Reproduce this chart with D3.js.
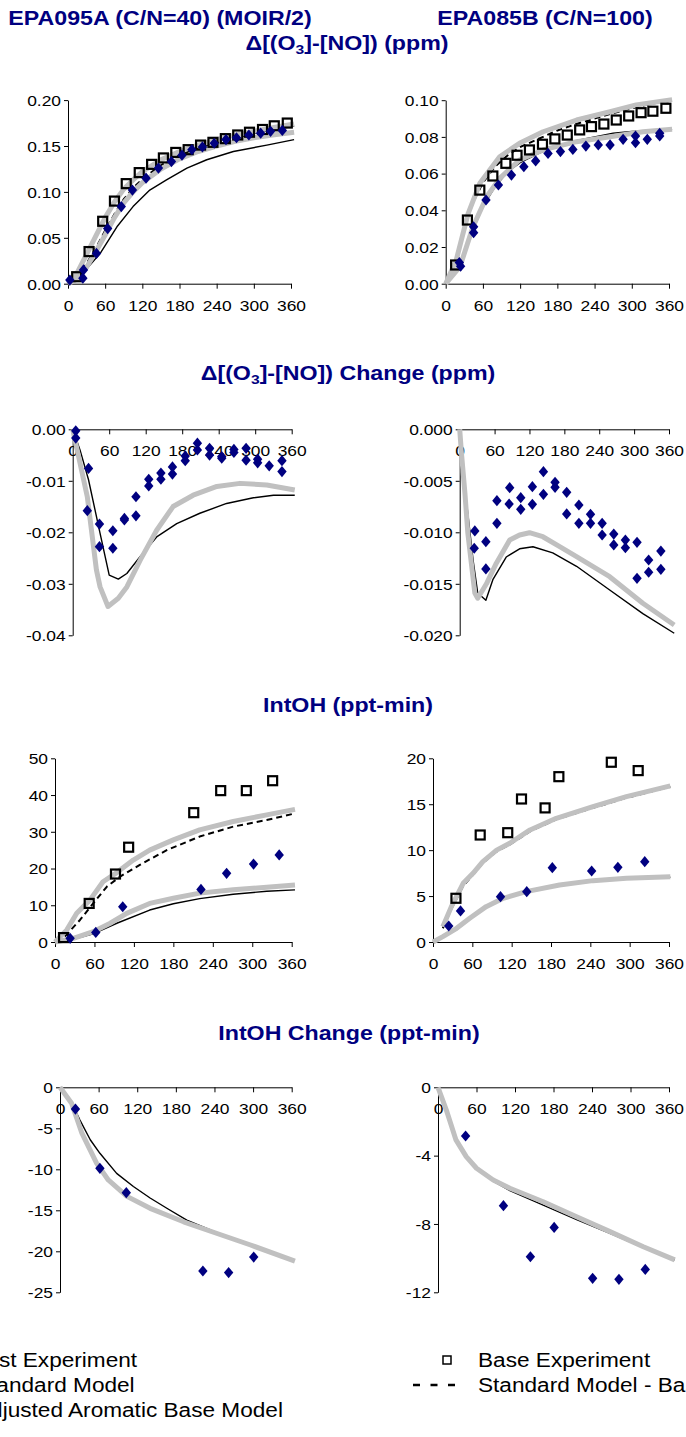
<!DOCTYPE html>
<html><head><meta charset="utf-8">
<script src="https://cdn.jsdelivr.net/npm/d3@7"></script>
<style>
body{margin:0;background:#fff;}
svg{display:block;}
text{font-family:"Liberation Sans",Arial,sans-serif;}
</style></head>
<body><svg id="c" width="686" height="1437"></svg>
<script>
// ---------- tick values ----------
const xTicks=[0,60,120,180,240,300,360];
const yTicksO3A=[0,0.05,0.10,0.15,0.20];
const yTicksO3B=[0,0.02,0.04,0.06,0.08,0.10];
const yTicksDA=[0,-0.01,-0.02,-0.03,-0.04];
const yTicksDB=[0,-0.005,-0.010,-0.015,-0.020];
const yTicksIA=[0,10,20,30,40,50];
const yTicksIB=[0,5,10,15,20];
const yTicksCA=[0,-5,-10,-15,-20,-25];
const yTicksCB=[0,-4,-8,-12];

// ---------- texts ----------
const expTitles=["EPA095A (C/N=40) (MOIR/2)","EPA085B (C/N=100)"];
const legendLeft=["Test Experiment","Standard Model","Adjusted Aromatic Base Model"];
const legendRight=["Base Experiment","Standard Model - Base Case"];

// ---------- panel 1: Δ(O3-NO) EPA095A [min, ppm] ----------
const o3A_test=[[3,0.004],[24,0.006],[25,0.015],[46,0.033],[64,0.060],[86,0.084],[104,0.102],[126,0.115],[146,0.126],[167,0.133],[184,0.140],[200,0.146],[217,0.149],[236,0.153],[255,0.157],[272,0.159],[292,0.162],[311,0.164],[327,0.166],[346,0.167]];
const o3A_base=[[14,0.0076],[34,0.035],[56,0.068],[75,0.090],[94,0.109],[115,0.121],[135,0.130],[154,0.137],[174,0.143],[194,0.146],[214,0.151],[234,0.154],[254,0.158],[274,0.162],[293,0.165],[314,0.168],[333,0.172],[354,0.175]];
const o3A_std=[[0,0],[15,0.004],[33,0.0185],[52,0.033],[79,0.062],[105,0.084],[132,0.102],[159,0.113],[192,0.126],[224,0.135],[267,0.144],[321,0.151],[365,0.157]];
const o3A_stdBase=[[0,0],[15,0.007],[30,0.022],[46,0.040],[60,0.058],[76,0.077],[90,0.092],[105,0.104],[120,0.114],[150,0.129],[180,0.140],[210,0.148],[240,0.154],[270,0.159],[300,0.164],[330,0.168],[365,0.172]];
const o3A_adjBase=[[0,0],[15,0.012],[30,0.032],[45,0.052],[60,0.072],[75,0.089],[90,0.103],[105,0.113],[120,0.122],[150,0.135],[180,0.144],[210,0.151],[240,0.157],[270,0.162],[300,0.166],[330,0.170],[365,0.174]];
const o3A_adjTest=[[0,0],[15,0.005],[30,0.018],[45,0.035],[60,0.053],[75,0.072],[90,0.088],[105,0.100],[120,0.110],[150,0.125],[180,0.136],[210,0.144],[240,0.150],[270,0.155],[300,0.159],[330,0.162],[365,0.165]];

// ---------- panel 2: Δ(O3-NO) EPA085B ----------
const o3B_base=[[16,0.0102],[35,0.0347],[55,0.051],[76,0.0587],[97,0.0656],[115,0.070],[135,0.0729],[156,0.076],[176,0.0789],[196,0.081],[216,0.0838],[235,0.0856],[255,0.087],[275,0.0892],[295,0.0914],[315,0.0932],[334,0.094],[355,0.0956]];
const o3B_test=[[22,0.0115],[24,0.0095],[45,0.031],[45,0.0278],[65,0.0456],[85,0.0538],[106,0.0592],[126,0.0638],[145,0.0669],[165,0.071],[185,0.072],[205,0.0732],[226,0.075],[246,0.0756],[265,0.0756],[286,0.0787],[306,0.0805],[306,0.0768],[325,0.0787],[345,0.082],[345,0.0805]];
const o3B_std=[[0,0],[20,0.007],[40,0.026],[60,0.042],[80,0.053],[100,0.061],[120,0.066],[150,0.071],[180,0.075],[210,0.078],[240,0.080],[270,0.082],[300,0.083],[330,0.0835],[365,0.084]];
const o3B_stdBase=[[0,0],[15,0.010],[30,0.031],[45,0.045],[60,0.055],[80,0.064],[100,0.070],[120,0.0745],[150,0.079],[180,0.0835],[210,0.087],[240,0.090],[270,0.093],[300,0.0955],[330,0.098],[365,0.0995]];
const o3B_adjBase=[[0,0],[17,0.0129],[36,0.038],[55,0.0547],[87,0.0692],[119,0.0765],[157,0.0828],[211,0.0892],[265,0.0937],[307,0.0974],[365,0.1003]];
const o3B_adjTest=[[0,0],[23,0.0093],[44,0.031],[66,0.0474],[87,0.0574],[119,0.0674],[157,0.0729],[211,0.0774],[265,0.0801],[318,0.0828],[365,0.0842]];

// ---------- panel 3: Δ(O3-NO) change EPA095A ----------
const dA_test=[[5,-0.0003],[5,-0.0017],[26,-0.0076],[24,-0.0158],[44,-0.0184],[44,-0.0228],[66,-0.0197],[66,-0.0231],[85,-0.0173],[85,-0.0176],[104,-0.0131],[104,-0.0168],[125,-0.0097],[125,-0.0110],[145,-0.0085],[145,-0.0097],[164,-0.0073],[164,-0.0087],[185,-0.0052],[185,-0.0061],[205,-0.0027],[205,-0.0040],[225,-0.0037],[225,-0.0050],[245,-0.0056],[245,-0.0053],[265,-0.0039],[265,-0.0045],[285,-0.0037],[285,-0.0060],[304,-0.0058],[304,-0.0065],[323,-0.0071],[344,-0.0061],[344,-0.0082]];
const dA_std=[[0,0],[12,-0.0040],[26,-0.0098],[45,-0.0202],[60,-0.0283],[75,-0.0291],[89,-0.0280],[111,-0.0247],[138,-0.0209],[171,-0.0183],[209,-0.0163],[253,-0.0144],[297,-0.0133],[330,-0.0128],[365,-0.0128]];
const dA_adj=[[0,0],[24,-0.0131],[39,-0.0273],[45,-0.0306],[58,-0.0344],[75,-0.0328],[89,-0.0306],[111,-0.0254],[138,-0.0196],[165,-0.0150],[198,-0.0128],[237,-0.0111],[275,-0.0105],[319,-0.0108],[365,-0.0118]];

// ---------- panel 4: Δ(O3-NO) change EPA085B ----------
const dB_test=[[26,-0.00987],[25,-0.01155],[45,-0.01091],[45,-0.01356],[64,-0.00693],[64,-0.00913],[86,-0.00567],[85,-0.00725],[105,-0.00664],[105,-0.00777],[125,-0.00557],[125,-0.00728],[144,-0.00411],[144,-0.00631],[164,-0.00515],[164,-0.00563],[184,-0.00612],[184,-0.00822],[205,-0.00735],[205,-0.00913],[225,-0.00825],[225,-0.00913],[245,-0.00913],[245,-0.01026],[265,-0.01017],[265,-0.01123],[285,-0.01075],[285,-0.0115],[305,-0.01097],[305,-0.01447],[325,-0.01269],[325,-0.01388],[346,-0.01182],[346,-0.01359]];
const dB_std=[[0,0],[3,-0.0040],[10,-0.0062],[23,-0.0127],[31,-0.0159],[45,-0.0166],[57,-0.0146],[80,-0.0124],[103,-0.0116],[126,-0.0114],[160,-0.0120],[201,-0.0133],[258,-0.0156],[315,-0.0179],[369,-0.0198]];
const dB_adj=[[0,0],[3,-0.0023],[9,-0.0062],[14,-0.0101],[26,-0.0159],[31,-0.0164],[46,-0.0150],[63,-0.0130],[86,-0.01075],[103,-0.01026],[120,-0.01004],[143,-0.01043],[172,-0.0114],[201,-0.01237],[258,-0.01431],[315,-0.01689],[369,-0.019]];

// ---------- panel 5: IntOH EPA095A ----------
const IA_base=[[13,1.2],[52,10.5],[92,18.5],[112,25.8],[211,35.2],[252,41.2],[291,41.2],[331,43.9]];
const IA_test=[[23,1.0],[62,2.6],[103,9.6],[222,14.3],[261,18.7],[302,21.2],[341,23.7]];
const IA_adjBase=[[0,0],[18,3.3],[33,7.8],[53,11.4],[73,16.4],[94,18.9],[119,22.3],[144,25.0],[180,27.8],[220,30.5],[271,32.8],[322,34.6],[365,36.1]];
const IA_stdBase=[[15,1.5],[38,6.0],[58,10.5],[79,15.1],[99,17.8],[129,21.0],[170,25.0],[220,28.7],[271,31.4],[322,33.2],[365,35.0]];
const IA_adjTest=[[0,0],[28,1.0],[58,2.8],[84,5.1],[109,7.8],[144,10.5],[180,11.9],[220,13.3],[271,14.2],[322,14.9],[365,15.5]];
const IA_std=[[0,0],[28,0.7],[58,2.2],[94,5.1],[144,8.7],[180,10.4],[220,11.8],[271,13.0],[322,13.8],[365,14.2]];

// ---------- panel 6: IntOH EPA085B ----------
const IB_base=[[35,4.76],[72,11.65],[114,11.9],[135,15.57],[171,14.6],[192,18.0],[272,19.57],[313,18.66]];
const IB_test=[[24,1.74],[42,3.38],[103,4.94],[143,5.48],[182,8.09],[242,7.73],[282,8.13],[323,8.75]];
const IB_adjBase=[[15,1.67],[28,3.85],[46,6.39],[61,7.48],[76,8.75],[97,10.0],[117,10.75],[148,12.2],[188,13.47],[244,14.74],[295,15.82],[362,17.0]];
const IB_stdBase=[[15,1.5],[28,3.6],[46,6.1],[61,7.3],[76,8.6],[97,9.85],[117,10.6],[148,12.05],[188,13.35],[244,14.6],[295,15.7],[362,16.9]];
const IB_adjTest=[[0,0],[15,0.58],[36,1.49],[56,2.58],[81,3.85],[107,4.76],[142,5.48],[193,6.2],[244,6.68],[295,6.94],[362,7.1]];
const IB_std=[[0,0],[15,0.5],[36,1.35],[56,2.45],[81,3.75],[107,4.65],[142,5.4],[193,6.1],[244,6.6],[295,6.88],[362,7.05]];

// ---------- panel 7: IntOH change EPA095A ----------
const cA_test=[[24,-2.65],[62,-9.88],[103,-12.85],[222,-22.4],[262,-22.6],[301,-20.7]];
const cA_std=[[0,0],[16,-1.55],[31,-4.0],[47,-6.4],[62,-8.05],[88,-10.5],[114,-12.1],[140,-13.5],[166,-14.75],[197,-16.2],[243,-17.7],[295,-19.1],[365,-21.1]];
const cA_adj=[[0,0],[18,-1.95],[34,-5.6],[57,-9.27],[75,-11.3],[104,-13.3],[140,-14.76],[192,-16.4],[243,-17.8],[295,-19.2],[365,-21.2]];

// ---------- panel 8: IntOH change EPA085B ----------
const cB_test=[[43,-2.85],[102,-6.93],[144,-9.92],[181,-8.2],[241,-11.18],[282,-11.24],[323,-10.66]];
const cB_std=[[0,0],[13,-1.33],[28,-3.08],[44,-4.06],[60,-4.74],[86,-5.5],[112,-6.05],[164,-6.9],[216,-7.75],[268,-8.55],[320,-9.38],[369,-10.1]];
const cB_adj=[[0,0],[13,-1.33],[28,-3.08],[44,-4.06],[60,-4.74],[86,-5.43],[112,-5.91],[164,-6.7],[216,-7.58],[268,-8.45],[320,-9.33],[369,-10.1]];

// ================= drawing =================
const SX=1.16;
const NAVY="#000080", GRAY="#c0c0c0", BLACK="#000";
const svg=d3.select("#c");
const hyph=s=>s.replace("\u2212","-");
const f2=v=>hyph(d3.format(".2f")(v));
const f3=v=>hyph(d3.format(".3f")(v));
const fd=v=>hyph(d3.format("d")(v));

function stretchedText(parent,x,y,str,size,weight,anchor,fill){
  return parent.append("text").attr("transform",`translate(${x},${y}) scale(${SX},1)`)
    .attr("font-size",size).attr("font-weight",weight||"normal").attr("text-anchor",anchor||"start")
    .attr("fill",fill||"#000").text(str);
}

function panel(cfg){
  const x=d3.scaleLinear().domain([0,360]).range([cfg.x0,cfg.x1]);
  const y=d3.scaleLinear().domain(cfg.yDom).range([cfg.yBot,cfg.yTop]);
  const g=svg.append("g");
  const xAxisY=y(cfg.xAt);
  const xa=g.append("g").attr("transform",`translate(0,${xAxisY})`)
    .call(d3.axisBottom(x).tickValues(xTicks).tickSize(5).tickSizeOuter(0).tickFormat(d3.format("d")));
  xa.select(".domain").attr("stroke",BLACK);
  xa.selectAll(".tick line").attr("stroke",BLACK);
  xa.selectAll(".tick text").each(function(){
    d3.select(this).attr("y",null).attr("dy",null).attr("font-size",15).attr("fill","#000")
     .attr("transform",`translate(0,27) scale(${SX},1)`);
  });
  xa.attr("font-family",null).attr("font-size",null);
  const ya=g.append("g").attr("transform",`translate(${cfg.x0},0)`)
    .call(d3.axisLeft(y).tickValues(cfg.yTicks).tickSize(4).tickSizeOuter(0).tickFormat(cfg.fmt));
  ya.select(".domain").attr("stroke",BLACK);
  ya.selectAll(".tick line").attr("stroke",BLACK);
  ya.selectAll(".tick text").each(function(){
    d3.select(this).attr("x",null).attr("dy",null).attr("font-size",15).attr("fill","#000")
     .attr("transform",`translate(-7,5.3) scale(${SX},1)`);
  });
  ya.attr("font-family",null).attr("font-size",null);
  const line=d3.line().x(d=>x(d[0])).y(d=>y(d[1]));
  cfg.lines.forEach(l=>{
    g.append("path").attr("d",line(l.data)).attr("fill","none")
      .attr("stroke",l.color).attr("stroke-width",l.w)
      .attr("stroke-dasharray",l.dash||null)
      .attr("stroke-linejoin","round");
  });
  (cfg.squares||[]).forEach(d=>{
    g.append("rect").attr("x",x(d[0])-4.5).attr("y",y(d[1])-4.5).attr("width",9).attr("height",9)
      .attr("fill","none").attr("stroke",BLACK).attr("stroke-width",2.2);
  });
  (cfg.diamonds||[]).forEach(d=>{
    const cx=x(d[0]), cy=y(d[1]);
    g.append("path").attr("d",`M${cx},${cy-5.6}L${cx+4.7},${cy}L${cx},${cy+5.6}L${cx-4.7},${cy}Z`)
      .attr("fill",NAVY);
  });
}

const L=(data,kind)=>{
  if(kind==="gray") return {data,color:GRAY,w:5};
  if(kind==="dash") return {data,color:BLACK,w:2,dash:"6,4"};
  return {data,color:BLACK,w:1.4};
};

// Titles
stretchedText(svg,160,25,expTitles[0],20,"bold","middle",NAVY);
stretchedText(svg,545,25,expTitles[1],20,"bold","middle",NAVY);

function deltaTitle(xc,yb,suffix){
  const t=svg.append("text").attr("transform",`translate(${xc},${yb}) scale(${SX},1)`)
    .attr("font-size",20).attr("font-weight","bold").attr("fill",NAVY).attr("text-anchor","middle");
  t.append("tspan").text("\u0394[(O");
  t.append("tspan").attr("font-size",13.5).attr("dy",4).text("3");
  t.append("tspan").attr("dy",-4).text("]-[NO])"+suffix);
}
deltaTitle(347,50," (ppm)");
deltaTitle(348,380," Change (ppm)");
stretchedText(svg,348,712,"IntOH (ppt-min)",20,"bold","middle",NAVY);
stretchedText(svg,349,1040,"IntOH Change (ppt-min)",20,"bold","middle",NAVY);

// Panels
panel({x0:68,x1:291,yDom:[0,0.2],yBot:283.7,yTop:100.1,xAt:0,yTicks:yTicksO3A,fmt:f2,
  lines:[L(o3A_std),L(o3A_stdBase,"dash"),L(o3A_adjTest,"gray"),L(o3A_adjBase,"gray")],
  squares:o3A_base,diamonds:o3A_test});
panel({x0:445.7,x1:669,yDom:[0,0.1],yBot:283.7,yTop:100.2,xAt:0,yTicks:yTicksO3B,fmt:f2,
  lines:[L(o3B_std),L(o3B_stdBase,"dash"),L(o3B_adjTest,"gray"),L(o3B_adjBase,"gray")],
  squares:o3B_base,diamonds:o3B_test});
panel({x0:72.7,x1:291.7,yDom:[-0.04,0],yBot:635.3,yTop:429.3,xAt:0,yTicks:yTicksDA,fmt:f2,
  lines:[L(dA_std),L(dA_adj,"gray")],diamonds:dA_test});
panel({x0:459.7,x1:669,yDom:[-0.02,0],yBot:635.3,yTop:429.3,xAt:0,yTicks:yTicksDB,fmt:f3,
  lines:[L(dB_std),L(dB_adj,"gray")],diamonds:dB_test});
panel({x0:55,x1:291.7,yDom:[0,50],yBot:942,yTop:758.3,xAt:0,yTicks:yTicksIA,fmt:fd,
  lines:[L(IA_std),L(IA_stdBase,"dash"),L(IA_adjTest,"gray"),L(IA_adjBase,"gray")],
  squares:IA_base,diamonds:IA_test});
panel({x0:433,x1:669,yDom:[0,20],yBot:942,yTop:758.3,xAt:0,yTicks:yTicksIB,fmt:fd,
  lines:[L(IB_std),L(IB_stdBase,"dash"),L(IB_adjTest,"gray"),L(IB_adjBase,"gray")],
  squares:IB_base,diamonds:IB_test});
panel({x0:60,x1:291.7,yDom:[-25,0],yBot:1292.3,yTop:1087.3,xAt:0,yTicks:yTicksCA,fmt:fd,
  lines:[L(cA_std),L(cA_adj,"gray")],diamonds:cA_test});
panel({x0:438,x1:669,yDom:[-12,0],yBot:1292.3,yTop:1087.3,xAt:0,yTicks:yTicksCB,fmt:fd,
  lines:[L(cB_std),L(cB_adj,"gray")],diamonds:cB_test});

// Legend (left column is cut off at the page edge, as in the reference)
const lg=svg.append("g");
legendLeft.forEach((s,i)=>stretchedText(lg,-25,1367+25*i,s,19.5,"normal","start","#000"));
lg.append("rect").attr("x",443).attr("y",1356).attr("width",8).attr("height",8)
  .attr("fill","none").attr("stroke",BLACK).attr("stroke-width",1.5);
lg.append("line").attr("x1",413).attr("x2",455).attr("y1",1385).attr("y2",1385)
  .attr("stroke",BLACK).attr("stroke-width",2.5).attr("stroke-dasharray","7,10.5");
legendRight.forEach((s,i)=>stretchedText(lg,478,1367+25*i,s,19.5,"normal","start","#000"));
</script>
</body></html>
